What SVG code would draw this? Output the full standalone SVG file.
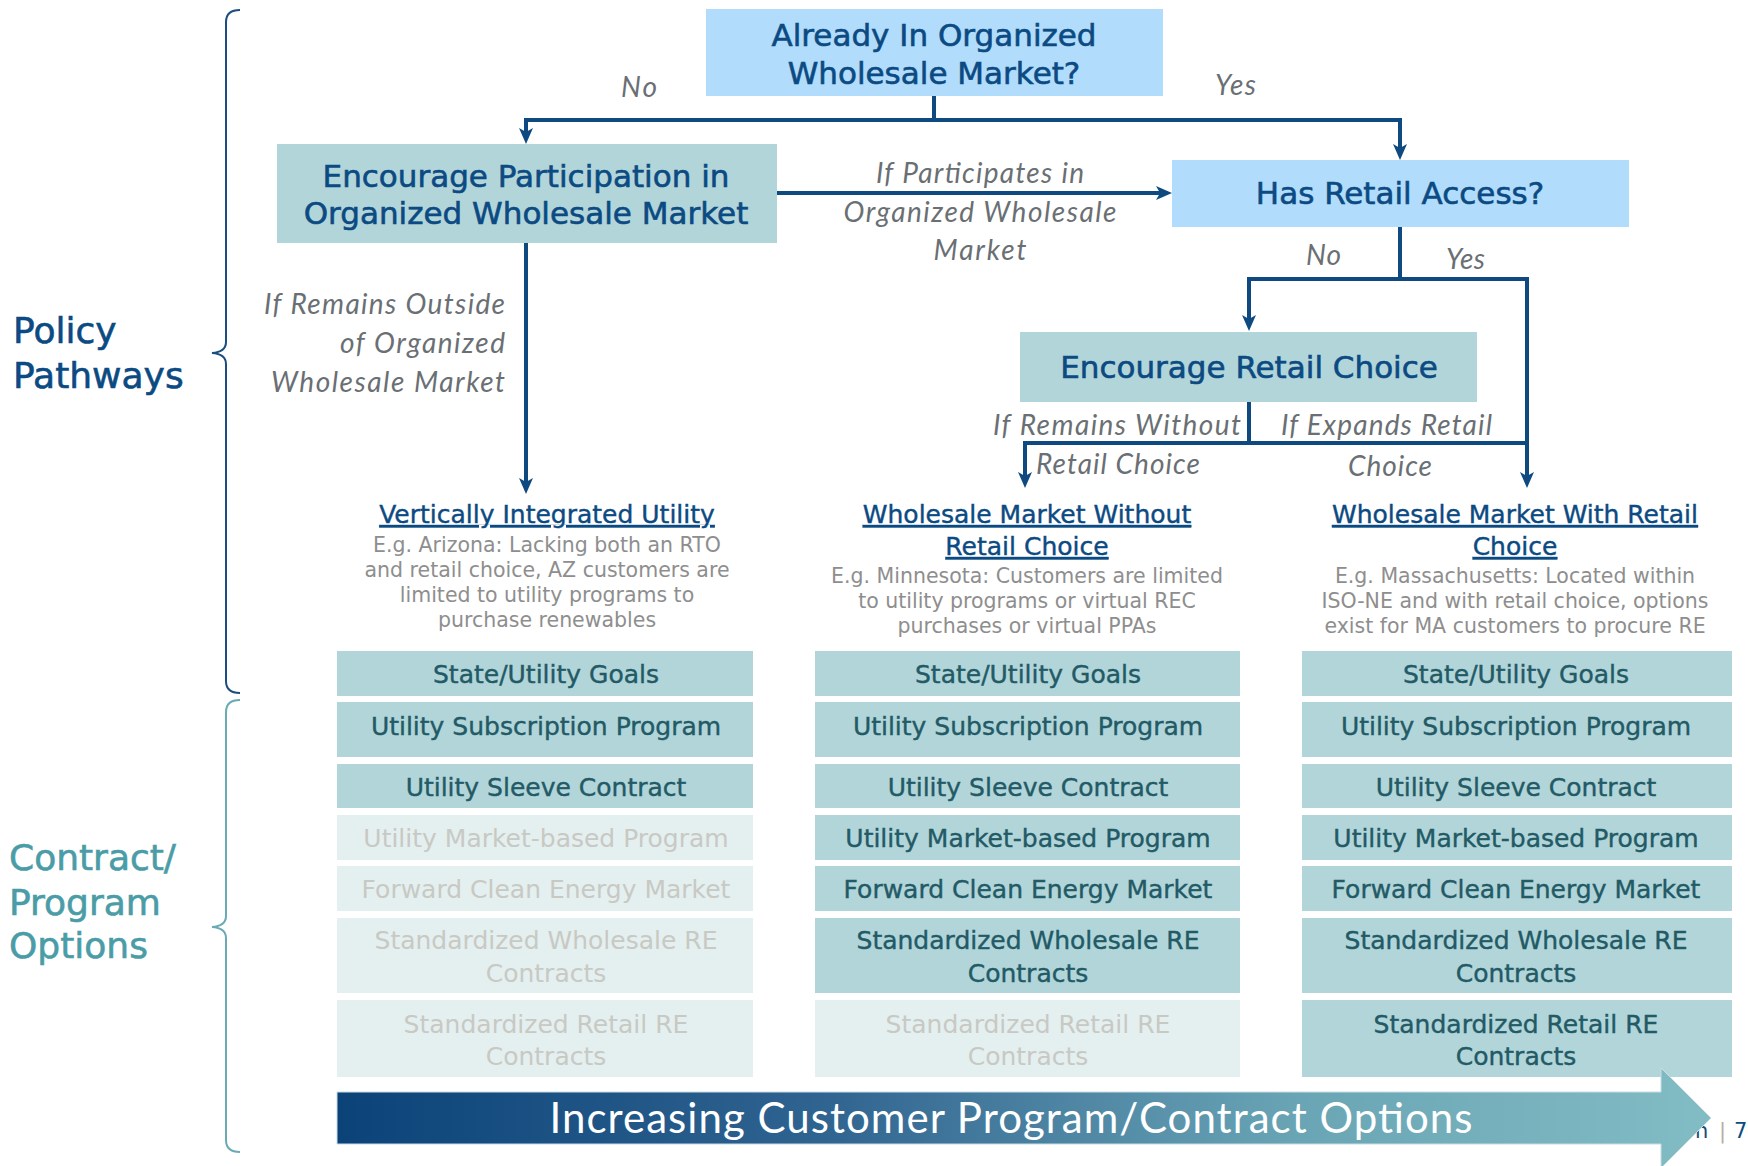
<svg xmlns="http://www.w3.org/2000/svg" width="1748" height="1166" viewBox="0 0 1748 1166">
  <defs>
    <marker id="arrow" markerUnits="userSpaceOnUse" markerWidth="17" markerHeight="14" refX="5" refY="7" orient="auto-start-reverse" viewBox="0 0 17 14">
      <path d="M0,0 L16,7 L0,14 L4,7 z" fill="#0e4a80"/>
    </marker>
    <linearGradient id="barGrad" gradientUnits="userSpaceOnUse" x1="337" y1="0" x2="1711" y2="0">
      <stop offset="0" stop-color="#0b4379"/>
      <stop offset="0.35" stop-color="#2f6390"/>
      <stop offset="0.7" stop-color="#6aa5b5"/>
      <stop offset="1" stop-color="#82bcc4"/>
    </linearGradient>
  </defs>
  <style>
    .q { fill: #b1dcfb; }
    .p { fill: #b2d5d9; }
    .ht { font-family: "DejaVu Sans", sans-serif; font-size: 31px; fill: #0b4a82; stroke: #0b4a82; stroke-width: 0.6px; text-anchor: middle; }
    .lbl { font-family: Lato, "Liberation Sans", sans-serif; font-style: italic; font-size: 28px; fill: #6a6f74; }
    .conn { fill: none; stroke: #0e4a80; stroke-width: 4; }
    .arr { marker-end: url(#arrow); }
    .colh { font-family: "DejaVu Sans", sans-serif; font-size: 25px; fill: #0b4a82; stroke: #0b4a82; stroke-width: 0.4px; text-anchor: middle; text-decoration: underline; }
    .desc { font-family: "DejaVu Sans", sans-serif; font-size: 20.5px; fill: #8e8e8e; text-anchor: middle; }
    .cell { fill: #b2d5d9; }
    .cell.off { fill: #e4eff0; }
    .ct { font-family: "DejaVu Sans", sans-serif; font-size: 25px; fill: #225a66; stroke: #225a66; stroke-width: 0.4px; text-anchor: middle; }
    .ct.off { fill: #c8c9c3; stroke: none; }
    .side { font-family: "DejaVu Sans", sans-serif; font-size: 36px; stroke-width: 0.6px; }
  </style>

  <rect width="1748" height="1166" fill="#ffffff"/>

  <!-- side labels and braces -->
  <g id="policy-pathways">
    <path d="M240,10 Q226,10 226,22 L226,342 Q226,352 212,353 Q226,354 226,364 L226,681 Q226,693 240,693" fill="none" stroke="#1b4d80" stroke-width="2"/>
    <text class="side" fill="#0b4a82" stroke="#0b4a82"><tspan x="13" y="343">Policy</tspan><tspan x="13" y="388">Pathways</tspan></text>
  </g>
  <g id="contract-options">
    <path d="M240,700 Q226,700 226,712 L226,916 Q226,926 212,927 Q226,928 226,938 L226,1140 Q226,1152 240,1152" fill="none" stroke="#6aaab4" stroke-width="2"/>
    <text class="side" fill="#4a9ca7" stroke="#4a9ca7"><tspan x="9" y="870">Contract/</tspan><tspan x="9" y="915">Program</tspan><tspan x="9" y="958">Options</tspan></text>
  </g>

  <!-- connectors -->
  <g id="connectors">
    <path class="conn" d="M934,96 V120"/>
    <path class="conn" d="M526,133 V120 H1400 V149" marker-start="url(#arrow)" marker-end="url(#arrow)"/>
    <path class="conn arr" d="M777,193 H1161"/>
    <path class="conn arr" d="M526,243 V483"/>
    <path class="conn" d="M1400,227 V279"/>
    <path class="conn" d="M1249,320 V279 H1527 V477" marker-start="url(#arrow)" marker-end="url(#arrow)"/>
    <path class="conn arr" d="M1249,402 V443 H1025 V477"/>
    <path class="conn" d="M1249,443 H1527"/>
    <text class="lbl" x="621" y="97" textLength="36">No</text>
    <text class="lbl" x="1215" y="95" textLength="41">Yes</text>
    <text class="lbl" x="980" y="183" text-anchor="middle" textLength="208">If Participates in</text>
    <text class="lbl" x="980" y="222" text-anchor="middle" textLength="273">Organized Wholesale</text>
    <text class="lbl" x="980" y="260" text-anchor="middle" textLength="93">Market</text>
    <text class="lbl" x="505" y="314" text-anchor="end" textLength="241">If Remains Outside</text>
    <text class="lbl" x="505" y="353" text-anchor="end" textLength="165">of Organized</text>
    <text class="lbl" x="505" y="392" text-anchor="end" textLength="234">Wholesale Market</text>
    <text class="lbl" x="1306" y="265" textLength="35">No</text>
    <text class="lbl" x="1446" y="269" textLength="39">Yes</text>
    <text class="lbl" x="1241" y="435" text-anchor="end" textLength="248">If Remains Without</text>
    <text class="lbl" x="1036" y="474" textLength="164">Retail Choice</text>
    <text class="lbl" x="1281" y="435" textLength="211">If Expands Retail</text>
    <text class="lbl" x="1390" y="476" text-anchor="middle" textLength="84">Choice</text>
  </g>

  <!-- decision and policy nodes -->
  <g id="q-organized-market">
    <rect class="q" x="706" y="9" width="457" height="87"/>
    <text class="ht" x="934" y="46">Already In Organized</text>
    <text class="ht" x="934" y="84">Wholesale Market?</text>
  </g>
  <g id="encourage-participation">
    <rect class="p" x="277" y="144" width="500" height="99"/>
    <text class="ht" x="526" y="187">Encourage Participation in</text>
    <text class="ht" x="526" y="224">Organized Wholesale Market</text>
  </g>
  <g id="q-retail-access">
    <rect class="q" x="1172" y="160" width="457" height="67"/>
    <text class="ht" x="1400" y="204">Has Retail Access?</text>
  </g>
  <g id="encourage-retail-choice">
    <rect class="p" x="1020" y="332" width="457" height="70"/>
    <text class="ht" x="1249" y="378">Encourage Retail Choice</text>
  </g>

  <!-- column 1: vertically integrated utility -->
  <g id="col-vertically-integrated">
    <text class="colh" x="547" y="523">Vertically Integrated Utility</text>
    <text class="desc" x="547" y="552">E.g. Arizona: Lacking both an RTO</text>
    <text class="desc" x="547" y="577">and retail choice, AZ customers are</text>
    <text class="desc" x="547" y="602">limited to utility programs to</text>
    <text class="desc" x="547" y="627">purchase renewables</text>
    <rect class="cell" x="337" y="651" width="416" height="45"/>
    <text class="ct" x="546" y="683">State/Utility Goals</text>
    <rect class="cell" x="337" y="702" width="416" height="55"/>
    <text class="ct" x="546" y="735">Utility Subscription Program</text>
    <rect class="cell" x="337" y="764" width="416" height="44"/>
    <text class="ct" x="546" y="796">Utility Sleeve Contract</text>
    <rect class="cell off" x="337" y="815" width="416" height="45"/>
    <text class="ct off" x="546" y="847">Utility Market-based Program</text>
    <rect class="cell off" x="337" y="866" width="416" height="45"/>
    <text class="ct off" x="546" y="898">Forward Clean Energy Market</text>
    <rect class="cell off" x="337" y="918" width="416" height="75"/>
    <text class="ct off" x="546" y="949">Standardized Wholesale RE</text>
    <text class="ct off" x="546" y="982">Contracts</text>
    <rect class="cell off" x="337" y="1000" width="416" height="77"/>
    <text class="ct off" x="546" y="1033">Standardized Retail RE</text>
    <text class="ct off" x="546" y="1065">Contracts</text>
  </g>

  <!-- column 2: wholesale market without retail choice -->
  <g id="col-wholesale-no-retail">
    <text class="colh" x="1027" y="523">Wholesale Market Without</text>
    <text class="colh" x="1027" y="555">Retail Choice</text>
    <text class="desc" x="1027" y="583">E.g. Minnesota: Customers are limited</text>
    <text class="desc" x="1027" y="608">to utility programs or virtual REC</text>
    <text class="desc" x="1027" y="633">purchases or virtual PPAs</text>
    <rect class="cell" x="815" y="651" width="425" height="45"/>
    <text class="ct" x="1028" y="683">State/Utility Goals</text>
    <rect class="cell" x="815" y="702" width="425" height="55"/>
    <text class="ct" x="1028" y="735">Utility Subscription Program</text>
    <rect class="cell" x="815" y="764" width="425" height="44"/>
    <text class="ct" x="1028" y="796">Utility Sleeve Contract</text>
    <rect class="cell" x="815" y="815" width="425" height="45"/>
    <text class="ct" x="1028" y="847">Utility Market-based Program</text>
    <rect class="cell" x="815" y="866" width="425" height="45"/>
    <text class="ct" x="1028" y="898">Forward Clean Energy Market</text>
    <rect class="cell" x="815" y="918" width="425" height="75"/>
    <text class="ct" x="1028" y="949">Standardized Wholesale RE</text>
    <text class="ct" x="1028" y="982">Contracts</text>
    <rect class="cell off" x="815" y="1000" width="425" height="77"/>
    <text class="ct off" x="1028" y="1033">Standardized Retail RE</text>
    <text class="ct off" x="1028" y="1065">Contracts</text>
  </g>

  <!-- column 3: wholesale market with retail choice -->
  <g id="col-wholesale-retail">
    <text class="colh" x="1515" y="523">Wholesale Market With Retail</text>
    <text class="colh" x="1515" y="555">Choice</text>
    <text class="desc" x="1515" y="583">E.g. Massachusetts: Located within</text>
    <text class="desc" x="1515" y="608">ISO-NE and with retail choice, options</text>
    <text class="desc" x="1515" y="633">exist for MA customers to procure RE</text>
    <rect class="cell" x="1302" y="651" width="430" height="45"/>
    <text class="ct" x="1516" y="683">State/Utility Goals</text>
    <rect class="cell" x="1302" y="702" width="430" height="55"/>
    <text class="ct" x="1516" y="735">Utility Subscription Program</text>
    <rect class="cell" x="1302" y="764" width="430" height="44"/>
    <text class="ct" x="1516" y="796">Utility Sleeve Contract</text>
    <rect class="cell" x="1302" y="815" width="430" height="45"/>
    <text class="ct" x="1516" y="847">Utility Market-based Program</text>
    <rect class="cell" x="1302" y="866" width="430" height="45"/>
    <text class="ct" x="1516" y="898">Forward Clean Energy Market</text>
    <rect class="cell" x="1302" y="918" width="430" height="75"/>
    <text class="ct" x="1516" y="949">Standardized Wholesale RE</text>
    <text class="ct" x="1516" y="982">Contracts</text>
    <rect class="cell" x="1302" y="1000" width="430" height="77"/>
    <text class="ct" x="1516" y="1033">Standardized Retail RE</text>
    <text class="ct" x="1516" y="1065">Contracts</text>
  </g>

  <!-- page number, partly under the arrow head -->
  <g id="page-number" font-family="'DejaVu Sans', sans-serif" font-size="21px">
    <text x="1695" y="1138" fill="#1d4a78">n</text>
    <text x="1719" y="1138" fill="#b5ae9f">|</text>
    <text x="1734" y="1138" fill="#0b4a82">7</text>
  </g>

  <!-- increasing options arrow -->
  <g id="options-arrow">
    <path d="M337,1092 H1661 V1068 L1711,1118 L1661,1168 V1144 H337 Z" fill="url(#barGrad)" stroke="#c9dde4" stroke-width="1"/>
    <text x="1011" y="1133" text-anchor="middle" font-family="Lato, 'Liberation Sans', sans-serif" font-size="42px" fill="#ffffff" textLength="923">Increasing Customer Program/Contract Options</text>
  </g>
</svg>
